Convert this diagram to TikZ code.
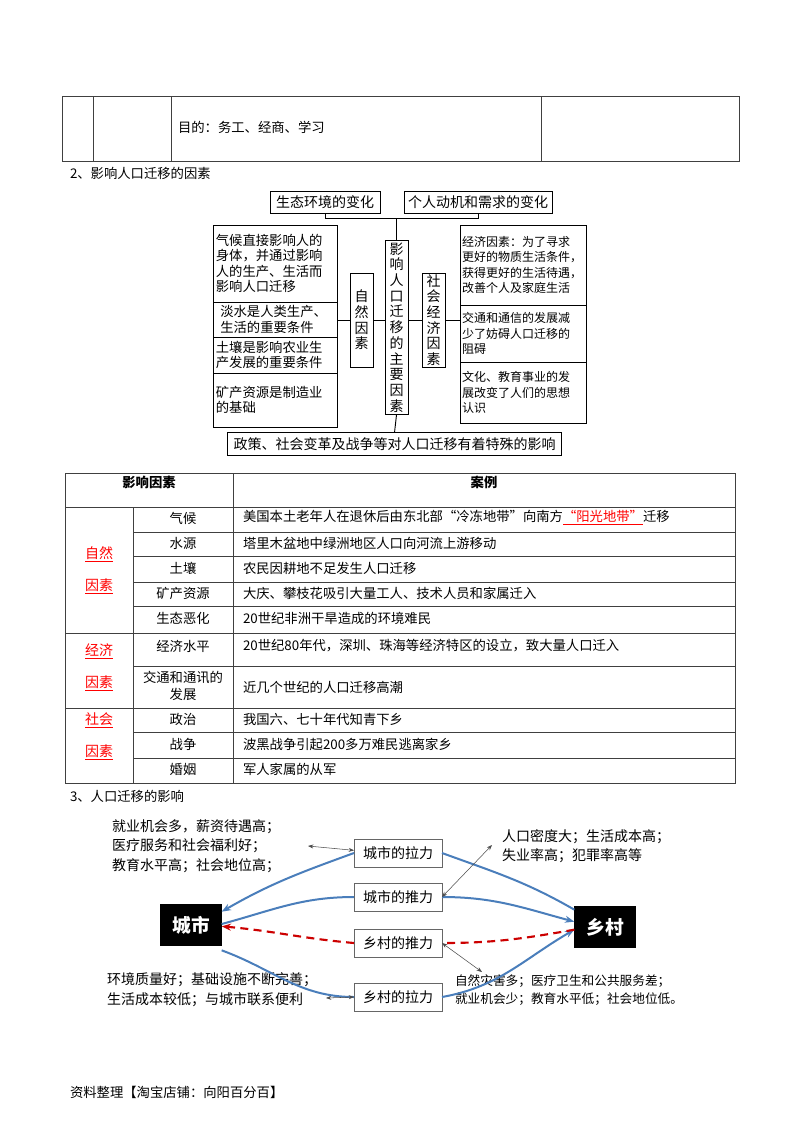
\documentclass[tikz,border=0pt]{standalone}
\usepackage{fontspec}
\setmainfont{Noto Sans CJK SC}
\usetikzlibrary{arrows.meta}
\definecolor{lblue}{HTML}{4A7EBB}
\definecolor{dred}{HTML}{CC0000}
\begin{document}
\begin{tikzpicture}[x=0.75pt,y=-0.75pt,
  every node/.style={inner sep=0pt,outer sep=0pt},
  tl/.style={draw=black!75,line width=0.6pt},
  t/.style={font=\fontsize{10}{13}\selectfont},
  fb/.style={draw,line width=0.7pt,font=\fontsize{10.5}{12.4}\selectfont},
  fboxl/.style={draw,line width=0.7pt,align=left,inner xsep=2pt,text width=89.5pt,font=\fontsize{10}{11.5}\selectfont},
  fboxr/.style={draw,line width=0.7pt,align=left,inner xsep=1.5pt,text width=92pt,font=\fontsize{9}{11.5}\selectfont},
  vbox/.style={fb,minimum width=17.25pt,align=center,font=\fontsize{10.5}{11.8}\selectfont},
  pb/.style={draw=black!60,line width=0.7pt,minimum width=66pt,minimum height=21pt,font=\fontsize{10.5}{12}\selectfont},
  blk/.style={fill=black,text=white,minimum width=46pt,minimum height=32pt,font=\fontsize{14}{16}\selectfont\bfseries},
  bl/.style={draw=lblue,line width=1.5pt},
  thin/.style={draw=black!70,line width=0.4pt,{Stealth[length=4pt]}-{Stealth[length=4pt]}},
]
\useasboundingbox (0,0) rectangle (800,1132);
% top table
\draw[tl] (62,96) rectangle (739,161);
\foreach \x in {93,171,541} \draw[tl] (\x,96) -- (\x,161);
\node[t,anchor=west] (purpose) at (178,127) {目的：务工、经商、学习};
\node[t,anchor=west] (h2) at (70,173) {2、影响人口迁移的因素};
% factor diagram
\node[fb,minimum width=82.5pt,minimum height=16.5pt] (eco) at (325,202) {生态环境的变化};
\node[fb,minimum width=111pt,minimum height=16.5pt] (per) at (478,202) {个人动机和需求的变化};
\node[vbox,minimum height=131pt] (main) at (396.5,327.5) {影\\响\\人\\口\\迁\\移\\的\\主\\要\\因\\素};
\node[vbox,minimum height=70.5pt] (nat) at (361.5,320) {自\\然\\因\\素};
\node[vbox,minimum height=70.5pt] (soc) at (433.5,320) {社\\会\\经\\济\\因\\素};
\node[fboxl,minimum height=57.75pt] (l1) at (275.5,263.5) {气候直接影响人的\\身体，并通过影响\\人的生产、生活而\\影响人口迁移};
\node[fboxl,minimum height=26.25pt] (l2) at (275.5,319.5) {\ 淡水是人类生产、\\\ 生活的重要条件};
\node[fboxl,minimum height=27pt] (l3) at (275.5,355) {土壤是影响农业生\\产发展的重要条件};
\node[fboxl,minimum height=40.5pt] (l4) at (275.5,400) {矿产资源是制造业\\的基础};
\node[fboxr,minimum height=60pt] (r1) at (523.5,265) {经济因素：为了寻求\\更好的物质生活条件，\\获得更好的生活待遇，\\改善个人及家庭生活};
\node[fboxr,minimum height=42.75pt] (r2) at (523.5,333.5) {交通和通信的发展减\\少了妨碍人口迁移的\\阻碍};
\node[fboxr,minimum height=45.75pt] (r3) at (523.5,392.5) {文化、教育事业的发\\展改变了人们的思想\\认识};
\node[fb,minimum width=251pt,minimum height=17pt] (bot) at (394.5,444) {政策、社会变革及战争等对人口迁移有着特殊的影响};
\coordinate (j1) at (325,218); \coordinate (j2) at (478,218); \coordinate (j3) at (396.5,218);
\draw[line width=0.7pt] (eco.south) -- (j1) -- (j2) -- (per.south);
\draw[line width=0.7pt] (j3) -- (main.north);
\draw[line width=0.7pt] (main.south) -- (bot.north);
\draw[line width=0.7pt] (l2.east |- nat.west) -- (nat.west);
\draw[line width=0.7pt] (nat.east) -- (main.west |- nat.east);
\draw[line width=0.7pt] (main.east |- soc.west) -- (soc.west);
\draw[line width=0.7pt] (soc.east) -- (r2.west |- soc.east);
% table 2
\draw[tl] (65,473) rectangle (735,783);
\draw[tl] (233,473) -- (233,783);
\draw[tl] (133,507) -- (133,783);
\foreach \y in {507,633,708} \draw[tl] (65,\y) -- (735,\y);
\foreach \y in {532,556,582,606,666,732,758} \draw[tl] (133,\y) -- (735,\y);
\node[t,font=\fontsize{10}{13}\selectfont\bfseries] (hf) at (149,482) {影响因素};
\node[t,font=\fontsize{10}{13}\selectfont\bfseries] (hc) at (484,482) {案例};
\node[t,align=center,font=\fontsize{10.5}{24}\selectfont] (g1) at (99,570) {\textcolor{red}{\underline{自然}}\\\textcolor{red}{\underline{因素}}};
\node[t,align=center,font=\fontsize{10.5}{24}\selectfont] (g2) at (99,667) {\textcolor{red}{\underline{经济}}\\\textcolor{red}{\underline{因素}}};
\node[t,align=center,font=\fontsize{10.5}{24}\selectfont] (g3) at (99,736) {\textcolor{red}{\underline{社会}}\\\textcolor{red}{\underline{因素}}};
\foreach \n/\y/\a/\b in {a/518/气候/{美国本土老年人在退休后由东北部“冷冻地带”向南方\textcolor{red}{\underline{“阳光地带”}}迁移},
  b/543/水源/塔里木盆地中绿洲地区人口向河流上游移动,
  c/568/土壤/农民因耕地不足发生人口迁移,
  d/593/矿产资源/大庆、攀枝花吸引大量工人、技术人员和家属迁入,
  e/618/生态恶化/20世纪非洲干旱造成的环境难民,
  f/646/经济水平/{20世纪80年代，深圳、珠海等经济特区的设立，致大量人口迁入},
  h/719/政治/我国六、七十年代知青下乡,
  i/744/战争/波黑战争引起200多万难民逃离家乡,
  j/769/婚姻/军人家属的从军}
  {\node[t] (k\n) at (183,\y) {\a}; \node[t,anchor=west] (v\n) at (243,\y) {\b};}
\node[t,align=center] (kg) at (183,686) {交通和通讯的\\发展};
\node[t,anchor=west] (vg) at (243,687) {近几个世纪的人口迁移高潮};
\node[t,anchor=west] (h3) at (70,796) {3、人口迁移的影响};
% bottom diagram
\node[blk] (city) at (191,925) {城市};
\node[blk] (rural) at (605,927) {乡村};
\node[pb] (cl) at (398,853) {城市的拉力};
\node[pb] (cp) at (398,897) {城市的推力};
\node[pb] (rp) at (398,943) {乡村的推力};
\node[pb] (rl) at (398,997) {乡村的拉力};
\node[t,anchor=west,align=left,font=\fontsize{10.5}{14.5}\selectfont] (tl1) at (112,846) {就业机会多，薪资待遇高；\\医疗服务和社会福利好；\\教育水平高；社会地位高；};
\node[t,anchor=west,align=left,font=\fontsize{10.5}{14.5}\selectfont] (tr1) at (502,846) {人口密度大；生活成本高；\\失业率高；犯罪率高等};
\node[t,anchor=west,align=left,font=\fontsize{10.5}{15}\selectfont] (tl2) at (107,990) {环境质量好；基础设施不断完善；\\生活成本较低；与城市联系便利};
\node[t,anchor=west,align=left,font=\fontsize{9.5}{14}\selectfont] (tr2) at (455,990) {自然灾害多；医疗卫生和公共服务差；\\就业机会少；教育水平低；社会地位低。};
\draw[bl] (rural.north west) ++(0,4) to[out=150,in=-20] (cl.east);
\draw[bl,-{Stealth[length=7pt]}] (cl.west) to[out=200,in=30] ([yshift=-6pt]city.north east);
\draw[bl] (city.east) ++(0,-1) to[out=15,in=180] (cp.west);
\draw[bl,-{Stealth[length=7pt]}] (cp.east) to[out=0,in=165] ([yshift=4pt]rural.west);
\draw[bl] ([yshift=-3pt]city.south east) to[out=-20,in=180] (rl.west);
\draw[bl,-{Stealth[length=7pt]}] (rl.east) to[out=10,in=210] ([yshift=-2pt]rural.west);
\draw[draw=dred,line width=1.6pt,dash pattern=on 6pt off 4pt] ([yshift=-2pt]rural.west) to[out=190,in=0] (rp.east);
\draw[draw=dred,line width=1.6pt,dash pattern=on 6pt off 4pt,-{Stealth[length=7pt]}] (rp.west) to[out=175,in=-5] ([yshift=-1pt]city.east);
\coordinate (a1) at (308,846); \coordinate (a2) at (492,845);
\coordinate (a3) at (482,972); \coordinate (a4) at (326,998);
\draw[thin] (a1) -- ([yshift=2pt]cl.west);
\draw[thin] (cp.east) -- (a2);
\draw[thin] (rp.east) -- (a3);
\draw[thin] (a4) -- (rl.west);
\node[t,anchor=west] (foot) at (70,1092) {资料整理【淘宝店铺：向阳百分百】};
\end{tikzpicture}
\end{document}
